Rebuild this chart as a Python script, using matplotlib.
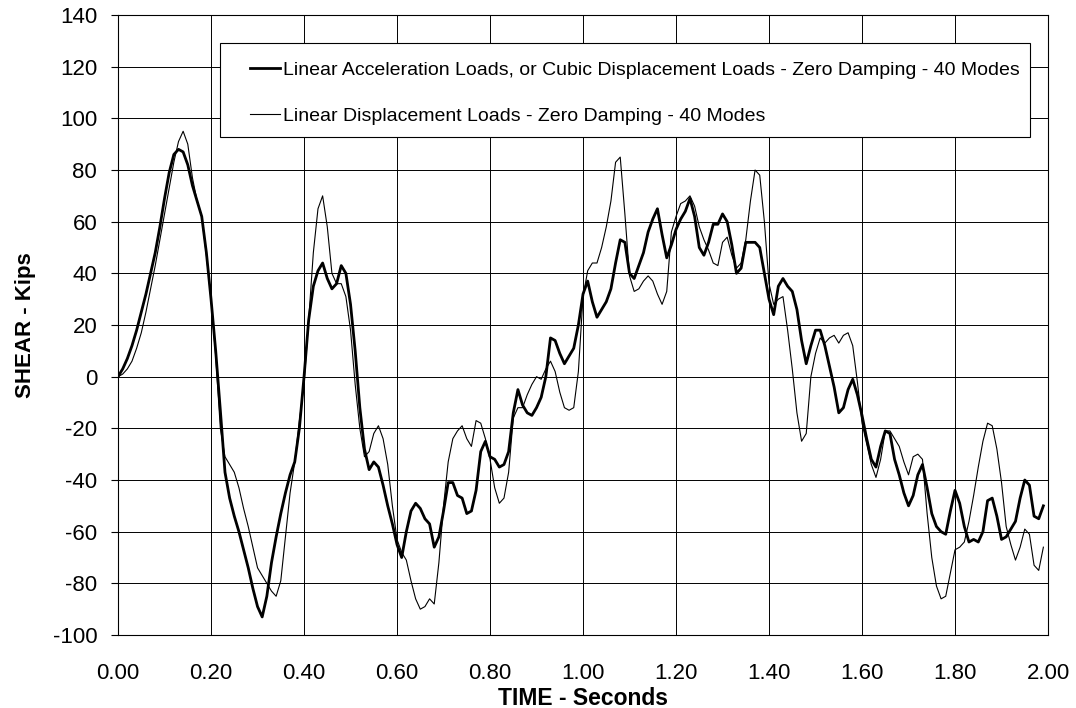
import numpy as np
import matplotlib
matplotlib.use("Agg")
import matplotlib.pyplot as plt
from matplotlib.patches import Rectangle

plt.rcParams['font.family'] = ['Liberation Sans', 'DejaVu Sans']
plt.rcParams['axes.unicode_minus'] = False

# time axis, 0.01 s steps
time_s = np.arange(200) / 100.0

# Linear acceleration / cubic displacement loads (thick line)
shear_accel = [
    0, 3, 7, 12, 18, 25, 32, 40, 48, 58,
    69, 79, 86, 88, 87, 82, 74, 68, 62, 48,
    30, 10, -13, -37, -47, -54, -60, -67, -74, -82,
    -89, -93, -85, -72, -62, -53, -45, -38, -33, -20,
    0, 22, 35, 41, 44, 38, 34, 36, 43, 40,
    28, 10, -12, -28, -36, -33, -35, -42, -50, -57,
    -65, -70, -60, -52, -49, -51, -55, -57, -66, -62,
    -52, -41, -41, -46, -47, -53, -52, -44, -29, -25,
    -31, -32, -35, -34, -29, -14, -5, -11, -14, -15,
    -12, -8, 0, 15, 14, 9, 5, 8, 11, 20,
    32, 37, 29, 23, 26, 29, 34, 44, 53, 52,
    40, 38, 43, 48, 56, 61, 65, 55, 46, 51,
    57, 61, 64, 69, 62, 50, 47, 52, 59, 59,
    63, 60, 51, 40, 42, 52, 52, 52, 50, 40,
    30, 24, 35, 38, 35, 33, 26, 14, 5, 12,
    18, 18, 12, 4, -4, -14, -12, -5, -1, -7,
    -15, -24, -32, -35, -27, -21, -22, -32, -38, -45,
    -50, -46, -38, -34, -43, -53, -58, -60, -61, -52,
    -44, -49, -58, -64, -63, -64, -60, -48, -47, -54,
    -63, -62, -59, -56, -47, -40, -42, -54, -55, -50,
]

# Linear displacement loads (thin line)
shear_disp = [
    0, 1, 3, 6, 11, 17, 25, 34, 43, 53,
    63, 73, 83, 91, 95, 90, 77, 68, 62, 47,
    30, 8, -20, -31, -34, -37, -43, -51, -58, -66,
    -74, -77, -80, -83, -85, -79, -62, -45, -33, -17,
    -3, 22, 48, 65, 70, 58, 40, 36, 36, 31,
    18, -3, -20, -31, -29, -22, -19, -24, -34, -50,
    -63, -68, -71, -79, -86, -90, -89, -86, -88, -72,
    -50, -33, -24, -21, -19, -24, -27, -17, -18, -24,
    -32, -43, -49, -47, -37, -16, -12, -12, -7, -3,
    0, -1, 3, 6, 2, -6, -12, -13, -12, 2,
    31, 41, 44, 44, 50, 58, 68, 83, 85, 63,
    39, 33, 34, 37, 39, 37, 32, 28, 33, 56,
    62, 67, 68, 70, 66, 58, 53, 49, 44, 43,
    52, 54, 47, 42, 44, 53, 68, 80, 78, 60,
    36, 28, 30, 31, 18, 3, -14, -25, -22, 0,
    9, 15, 13, 15, 16, 13, 16, 17, 12, -2,
    -18, -26, -34, -39, -32, -21, -21, -24, -27, -33,
    -38, -31, -30, -32, -53, -70, -81, -86, -85, -76,
    -67, -66, -64, -56, -46, -35, -25, -18, -19, -28,
    -41, -58, -65, -71, -66, -59, -61, -73, -75, -66,
]

x_ticks = np.arange(0, 2.01, 0.2)
y_ticks = np.arange(-100, 141, 20)

fig = plt.figure(figsize=(10.76, 7.08), dpi=100)
ax = fig.add_axes([0.1097, 0.1031, 0.8643, 0.8757])

ax.plot(time_s, shear_accel, color='black', linewidth=2.0,
        label='Linear Acceleration Loads, or Cubic Displacement Loads - Zero Damping - 40 Modes')
ax.plot(time_s, shear_disp, color='black', linewidth=0.8,
        label='Linear Displacement Loads - Zero Damping - 40 Modes')

ax.set_xlim(0, 2.0)
ax.set_ylim(-100, 140)
ax.set_xticks(x_ticks)
ax.set_xticklabels([f'{t:.2f}' for t in x_ticks])
ax.set_yticks(y_ticks)
ax.grid(True, color='black', linewidth=0.7)
ax.set_axisbelow(True)
for s in ax.spines.values():
    s.set_linewidth(0.8)

ax.tick_params(axis='both', labelsize=16, direction='out', width=0.8)
ax.tick_params(axis='x', pad=20, length=0)
ax.tick_params(axis='y', pad=10, length=5)

ax.set_xlabel('TIME - Seconds', fontsize=16.5, fontweight='bold', labelpad=2)
ax.set_ylabel('SHEAR - Kips', fontsize=16, fontweight='bold', labelpad=12)

# legend box drawn by hand so the padding matches
frame = Rectangle((0.1097, 0.8032), 0.8709, 0.1516, transform=ax.transAxes,
                  facecolor='white', edgecolor='black', linewidth=0.8, zorder=4)
ax.add_patch(frame)
leg = ax.legend(loc='upper left', bbox_to_anchor=(0.1419, 0.925), fontsize=14,
                handlelength=1.55, handletextpad=0.15, labelspacing=1.45,
                borderpad=0, borderaxespad=0, frameon=False)
leg.set_zorder(5)

fig.savefig('out.png', dpi=100)
